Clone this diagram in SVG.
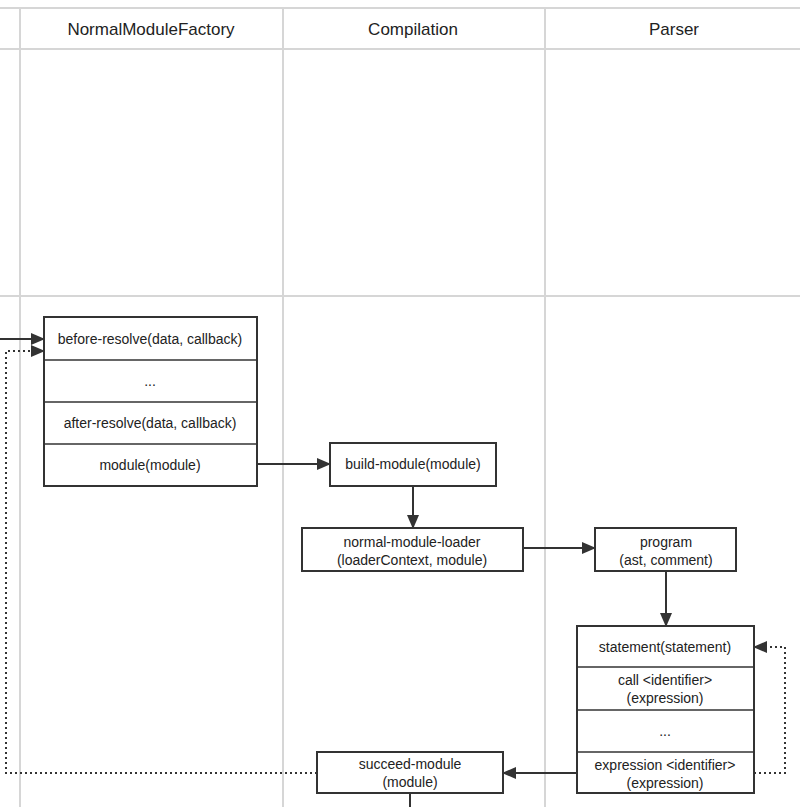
<svg xmlns="http://www.w3.org/2000/svg" width="800" height="807" viewBox="0 0 800 807">
<style>
.grid{stroke:#d6d6d6;stroke-width:2;fill:none}
.box{fill:#fff;stroke:#333;stroke-width:2}
.sep{stroke:#333;stroke-width:1.5}
.hd{font-family:"Liberation Sans",Arial,sans-serif;font-size:17px;fill:#222;text-anchor:middle}
.t{font-family:"Liberation Sans",Arial,sans-serif;font-size:14px;fill:#222;text-anchor:middle}
.ln{stroke:#333;stroke-width:2;fill:none}
.dot{stroke:#333;stroke-width:2;fill:none;stroke-dasharray:2 3}
</style>
<defs>
<marker id="ah" markerUnits="userSpaceOnUse" markerWidth="14" markerHeight="12" refX="13" refY="6" orient="auto">
<path d="M0,0 L14,6 L0,12 Z" fill="#333"/>
</marker>
</defs>
<rect width="800" height="807" fill="#fff"/>
<g id="grid">
<line class="grid" x1="0" y1="8" x2="800" y2="8"/>
<line class="grid" x1="0" y1="49" x2="800" y2="49"/>
<line class="grid" x1="0" y1="296" x2="800" y2="296"/>
<line class="grid" x1="20" y1="8" x2="20" y2="807"/>
<line class="grid" x1="283" y1="8" x2="283" y2="807"/>
<line class="grid" x1="545" y1="8" x2="545" y2="807"/>
<text class="hd" x="151" y="35">NormalModuleFactory</text>
<text class="hd" x="413" y="35">Compilation</text>
<text class="hd" x="674" y="35">Parser</text>
</g>
<g id="connectors">
<path class="ln" d="M0,339 L44,339" marker-end="url(#ah)"/>
<path class="dot" d="M317,773 L6,773 L6,351 L44,351" marker-end="url(#ah)"/>
<path class="ln" d="M257,464 L330,464" marker-end="url(#ah)"/>
<path class="ln" d="M413,486 L413,528" marker-end="url(#ah)"/>
<path class="ln" d="M523,548 L595,548" marker-end="url(#ah)"/>
<path class="ln" d="M666,571 L666,626" marker-end="url(#ah)"/>
<path class="dot" d="M754,773 L785,773 L785,647 L754,647" marker-end="url(#ah)"/>
<path class="ln" d="M577,773 L503,773" marker-end="url(#ah)"/>
<path class="ln" d="M410,793 L410,807"/>
</g>
<g id="nmf">
<rect class="box" x="44" y="317" width="213" height="169"/>
<line class="sep" x1="44" y1="360" x2="257" y2="360"/>
<line class="sep" x1="44" y1="402" x2="257" y2="402"/>
<line class="sep" x1="44" y1="444" x2="257" y2="444"/>
<text class="t" x="150" y="344">before-resolve(data, callback)</text>
<text class="t" x="150" y="386">...</text>
<text class="t" x="150" y="428">after-resolve(data, callback)</text>
<text class="t" x="150" y="470">module(module)</text>
</g>
<g id="build-module">
<rect class="box" x="330" y="443" width="166" height="43"/>
<text class="t" x="413" y="469">build-module(module)</text>
</g>
<g id="normal-module-loader">
<rect class="box" x="302" y="528" width="221" height="43"/>
<text class="t" x="412" y="547">normal-module-loader</text>
<text class="t" x="412" y="565">(loaderContext, module)</text>
</g>
<g id="program">
<rect class="box" x="595" y="528" width="141" height="43"/>
<text class="t" x="666" y="547">program</text>
<text class="t" x="666" y="565">(ast, comment)</text>
</g>
<g id="parser-hooks">
<rect class="box" x="577" y="626" width="177" height="167"/>
<line class="sep" x1="577" y1="667" x2="754" y2="667"/>
<line class="sep" x1="577" y1="710" x2="754" y2="710"/>
<line class="sep" x1="577" y1="752" x2="754" y2="752"/>
<text class="t" x="665" y="652">statement(statement)</text>
<text class="t" x="665" y="685">call &lt;identifier&gt;</text>
<text class="t" x="665" y="703">(expression)</text>
<text class="t" x="665" y="736">...</text>
<text class="t" x="665" y="770">expression &lt;identifier&gt;</text>
<text class="t" x="665" y="788">(expression)</text>
</g>
<g id="succeed-module">
<rect class="box" x="317" y="752" width="186" height="41"/>
<text class="t" x="410" y="769">succeed-module</text>
<text class="t" x="410" y="787">(module)</text>
</g>
</svg>
